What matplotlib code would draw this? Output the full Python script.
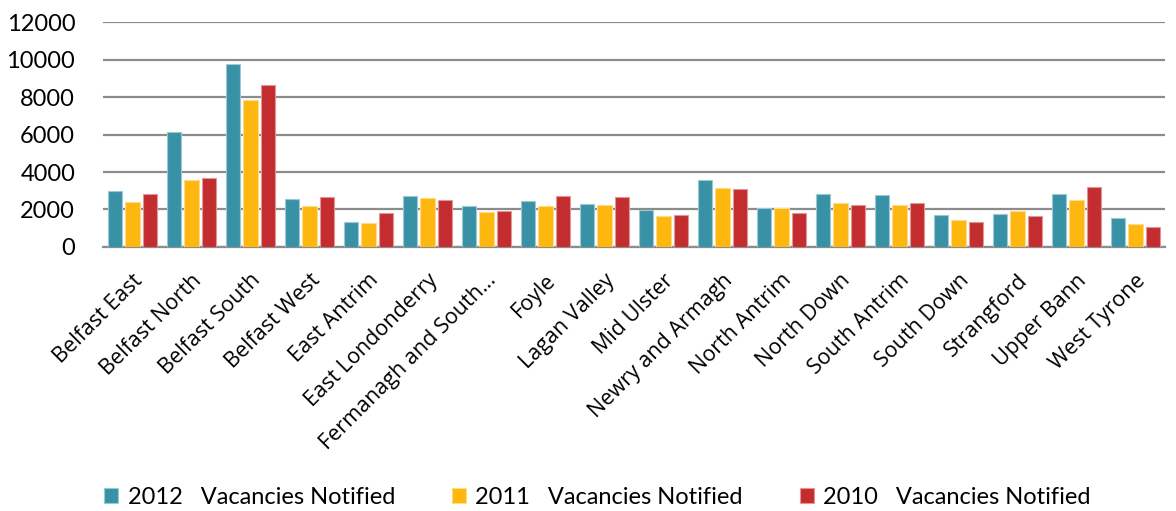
import numpy as np
import matplotlib
matplotlib.use("Agg")
import matplotlib.pyplot as plt

constituencies = [
    "Belfast East", "Belfast North", "Belfast South", "Belfast West",
    "East Antrim", "East Londonderry", "Fermanagh and South\u2026", "Foyle",
    "Lagan Valley", "Mid Ulster", "Newry and Armagh", "North Antrim",
    "North Down", "South Antrim", "South Down", "Strangford",
    "Upper Bann", "West Tyrone",
]
vac_2012 = [3000, 6130, 9790, 2570, 1320, 2710, 2180, 2460, 2270, 1950,
            3570, 2050, 2800, 2750, 1700, 1730, 2800, 1540]
vac_2011 = [2410, 3570, 7860, 2200, 1250, 2610, 1840, 2180, 2230, 1630,
            3160, 2070, 2320, 2230, 1410, 1930, 2500, 1210]
vac_2010 = [2800, 3660, 8640, 2640, 1830, 2480, 1930, 2700, 2660, 1700,
            3070, 1820, 2230, 2340, 1320, 1640, 3180, 1050]
series_labels = ["2012   Vacancies Notified", "2011   Vacancies Notified",
                 "2010   Vacancies Notified"]
colors = ["#3991A6", "#FEB70F", "#C32D2F"]
edges = ["#9CC8D3", "#FFDB87", "#E19697"]

fig = plt.figure(figsize=(11.76, 5.11), dpi=100)
ax = fig.add_axes([0.0876, 0.517, 0.903, 0.439])

x = np.arange(len(constituencies))
width = 0.24
step = 0.30
for i, (vals, lab) in enumerate(zip([vac_2012, vac_2011, vac_2010], series_labels)):
    ax.bar(x + (i - 1) * step, vals, width, color=colors[i], edgecolor=edges[i],
           linewidth=0.8, label=lab, zorder=3)

ax.set_ylim(0, 12000)
ax.set_xlim(-0.5, len(constituencies) - 0.5)
ax.set_yticks(range(0, 12001, 2000))
ax.yaxis.grid(True, color="#8C8C8C", linewidth=1.6, zorder=0)
ax.set_axisbelow(True)
for s in ["top", "right", "left"]:
    ax.spines[s].set_visible(False)
ax.spines["bottom"].set_color("#8C8C8C")
ax.spines["bottom"].set_linewidth(1.6)
ax.tick_params(axis="both", length=0)
ax.tick_params(axis="y", pad=20)
for t in ax.get_yticklabels():
    t.set_fontfamily("Lato")
    t.set_fontsize(17)

ax.set_xticks(x + 0.12)
ax.set_xticklabels(constituencies, rotation=45, ha="right", va="center",
                   rotation_mode="anchor", fontfamily="Open Sans", fontsize=15.5)
ax.tick_params(axis="x", pad=22)

leg = fig.legend(loc="lower center", bbox_to_anchor=(0.508, -0.035), ncol=3,
                 frameon=False, handlelength=0.6, handleheight=0.6,
                 handletextpad=0.4, columnspacing=2.4,
                 prop={"family": "Lato", "size": 17})

fig.savefig("out.png", dpi=100)
